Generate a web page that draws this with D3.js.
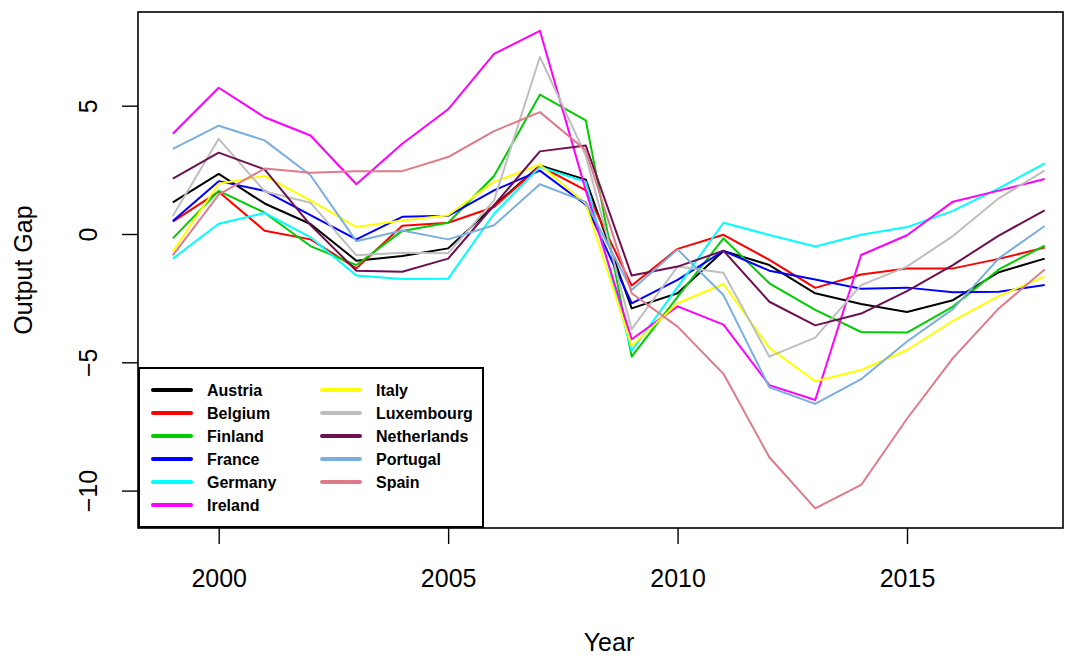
<!DOCTYPE html>
<html>
<head>
<meta charset="utf-8">
<script src="https://cdn.jsdelivr.net/npm/d3@7"></script>
<style>
  html, body { margin: 0; padding: 0; background: #fff; }
  svg { display: block; font-family: "Liberation Sans", Arial, Helvetica, sans-serif; }
</style>
</head>
<body>
<svg id="chart" width="1070" height="659"></svg>
<script>
const years = d3.range(1999, 2019);
const countries = ["Austria","Belgium","Finland","France","Germany","Ireland","Italy","Luxembourg","Netherlands","Portugal","Spain"];
const colors = ["#000000","#FF0000","#00CD00","#0000FF","#00FFFF","#FF00FF","#FFFF00","#BEBEBE","#6E1050","#7AAEDF","#DE7A8A"];

const austria     = [1.23, 2.34, 1.19, 0.39, -1.04, -0.86, -0.56, 1.10, 2.67, 2.12, -2.90, -2.31, -0.66, -1.21, -2.31, -2.73, -3.04, -2.58, -1.49, -0.96];
const belgium     = [0.48, 1.65, 0.13, -0.21, -1.34, 0.32, 0.44, 1.05, 2.65, 1.70, -2.01, -0.58, -0.03, -1.01, -2.10, -1.58, -1.34, -1.34, -0.97, -0.53];
const finland     = [-0.17, 1.68, 0.83, -0.47, -1.21, 0.12, 0.44, 2.26, 5.43, 4.43, -4.78, -2.45, -0.17, -1.92, -2.96, -3.82, -3.84, -2.83, -1.38, -0.45];
const france      = [0.51, 2.06, 1.68, 0.74, -0.21, 0.67, 0.71, 1.70, 2.47, 1.14, -2.70, -1.79, -0.66, -1.43, -1.77, -2.13, -2.09, -2.27, -2.25, -1.99];
const germany     = [-0.96, 0.40, 0.82, -0.13, -1.62, -1.75, -1.74, 0.79, 2.61, 2.03, -4.55, -2.07, 0.44, -0.04, -0.49, -0.03, 0.27, 0.90, 1.78, 2.75];
const ireland     = [3.91, 5.70, 4.55, 3.84, 1.94, 3.52, 4.86, 7.02, 7.92, 1.70, -4.10, -2.82, -3.53, -5.89, -6.47, -0.82, -0.05, 1.26, 1.69, 2.14];
const italy       = [-0.68, 1.96, 2.26, 1.31, 0.27, 0.53, 0.73, 2.03, 2.70, 1.18, -4.36, -2.70, -1.95, -4.44, -5.74, -5.30, -4.52, -3.39, -2.42, -1.66];
const luxembourg  = [0.70, 3.71, 1.66, 1.22, -0.83, -0.73, -0.75, 1.31, 6.90, 3.06, -3.71, -1.27, -1.51, -4.78, -4.04, -1.99, -1.27, -0.08, 1.39, 2.47];
const netherlands = [2.16, 3.17, 2.52, 0.35, -1.43, -1.47, -0.96, 1.12, 3.22, 3.45, -1.62, -1.27, -0.65, -2.64, -3.56, -3.10, -2.23, -1.21, -0.06, 0.92];
const portugal    = [3.32, 4.22, 3.65, 2.29, -0.28, 0.14, -0.21, 0.34, 1.94, 1.25, -2.18, -0.60, -2.38, -5.97, -6.62, -5.66, -4.19, -2.93, -0.95, 0.31];
const spain       = [-0.83, 1.53, 2.55, 2.39, 2.45, 2.45, 3.00, 4.01, 4.75, 3.26, -2.31, -3.61, -5.45, -8.70, -10.69, -9.78, -7.20, -4.84, -2.90, -1.38];

const seriesValues = [austria, belgium, finland, france, germany, ireland, italy, luxembourg, netherlands, portugal, spain];
const xTicks = [2000, 2005, 2010, 2015];
const yTicks = [-10, -5, 0, 5];
const xTitle = "Year";
const yTitle = "Output Gap";

const svg = d3.select("#chart");
const plot = { left: 138, right: 1063, top: 12, bottom: 528 };

const x = d3.scaleLinear().domain([2000, 2015]).range([218.7, 907]);
const y = d3.scaleLinear().domain([0, 5]).range([234, 105.7]);

// lines
const line = d3.line().x((d, i) => x(years[i])).y(d => y(d));
const gLines = svg.append("g");
seriesValues.forEach((vals, k) => {
  gLines.append("path")
    .datum(vals)
    .attr("d", line)
    .attr("fill", "none")
    .attr("stroke", colors[k])
    .attr("stroke-width", 2)
    .attr("stroke-linejoin", "round");
});

// box
svg.append("rect")
  .attr("x", plot.left).attr("y", plot.top)
  .attr("width", plot.right - plot.left).attr("height", plot.bottom - plot.top)
  .attr("fill", "none").attr("stroke", "#000").attr("stroke-width", 1.6);

// x axis
const gx = svg.append("g").attr("transform", `translate(0,${plot.bottom})`)
  .call(d3.axisBottom(x).tickValues(xTicks).tickFormat(d3.format("d")).tickSize(16).tickSizeOuter(0));
gx.select(".domain").remove();
gx.selectAll(".tick line").attr("stroke", "#000").attr("stroke-width", 1.4);
gx.selectAll(".tick text").attr("y", 59).attr("dy", 0)
  .style("font-size", "25px").attr("fill", "#000")
  .style("font-family", "'Liberation Sans', Arial, sans-serif");

// y axis
const gy = svg.append("g").attr("transform", `translate(${plot.left},0)`)
  .call(d3.axisLeft(y).tickValues(yTicks).tickFormat(d => d < 0 ? "\u2212" + Math.abs(d) : d).tickSize(16).tickSizeOuter(0));
gy.select(".domain").remove();
gy.selectAll(".tick line").attr("stroke", "#000").attr("stroke-width", 1.4);
gy.selectAll(".tick text")
  .attr("x", 0).attr("dy", 0)
  .attr("transform", "translate(-41,0) rotate(-90)")
  .attr("text-anchor", "middle")
  .style("font-size", "25px").attr("fill", "#000")
  .style("font-family", "'Liberation Sans', Arial, sans-serif");

// titles
svg.append("text").attr("x", 609).attr("y", 651).attr("text-anchor", "middle")
  .style("font-size", "25px").text(xTitle);
svg.append("text").attr("transform", "translate(32,270) rotate(-90)").attr("text-anchor", "middle")
  .style("font-size", "25px").text(yTitle);

// legend
const leg = svg.append("g");
leg.append("rect").attr("x", 139).attr("y", 368).attr("width", 344).attr("height", 159)
  .attr("fill", "#fff").attr("stroke", "#000").attr("stroke-width", 2);
countries.forEach((c, i) => {
  const col = i < 6 ? 0 : 1;
  const row = i < 6 ? i : i - 6;
  const lx = col === 0 ? 153 : 322;
  const ly = 390 + row * 23;
  leg.append("line").attr("x1", lx).attr("x2", lx + 38).attr("y1", ly).attr("y2", ly)
    .attr("stroke", colors[i]).attr("stroke-width", 4).attr("stroke-linecap", "round");
  leg.append("text").attr("x", lx + 54).attr("y", ly + 6)
    .style("font-size", "16px").style("font-weight", "bold").text(c);
});
</script>
</body>
</html>
